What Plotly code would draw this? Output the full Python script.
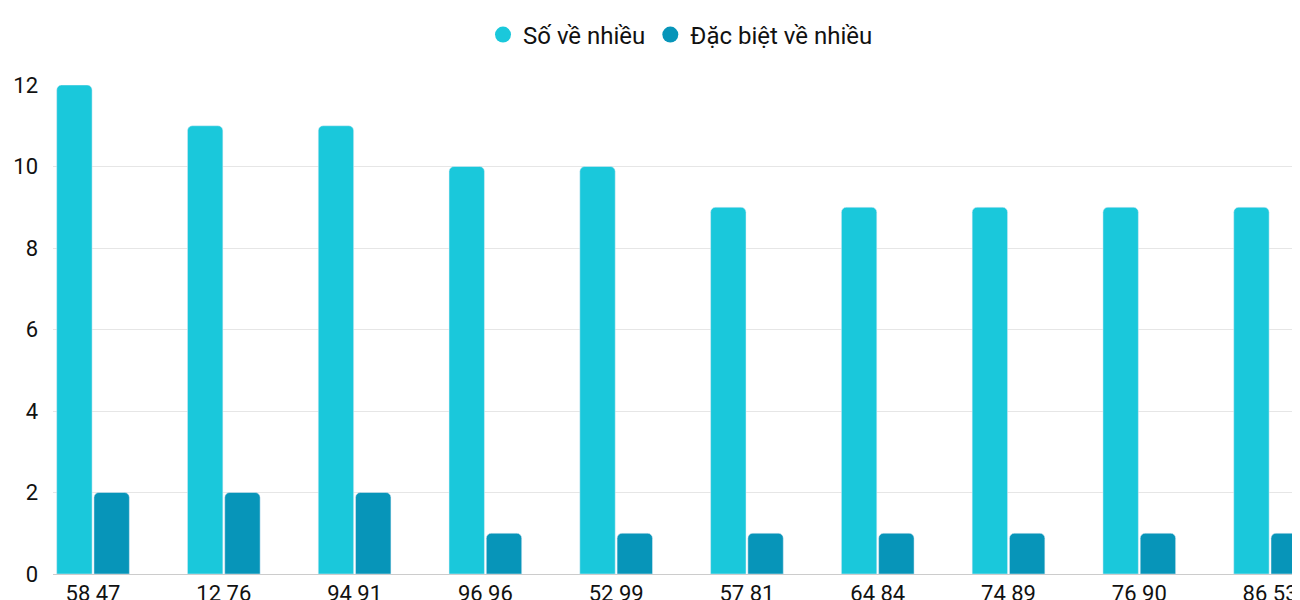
import plotly.graph_objects as go

categories = ["58 47", "12 76", "94 91", "96 96", "52 99", "57 81", "64 84", "74 89", "76 90", "86 53"]
so_ve_nhieu = [12, 11, 11, 10, 10, 9, 9, 9, 9, 9]
dac_biet = [2, 2, 2, 1, 1, 1, 1, 1, 1, 1]
c1, c2 = "#1AC8DB", "#0795B9"

fig = go.Figure()
fig.add_bar(x=categories, y=so_ve_nhieu, marker=dict(color=c1, cornerradius=5), showlegend=False)
fig.add_bar(x=categories, y=dac_biet, marker=dict(color=c2, cornerradius=5), showlegend=False)
for name, c in [("Số về nhiều", c1), ("Đặc biệt về nhiều", c2)]:
    fig.add_scatter(x=[None], y=[None], mode="markers", name=name,
                    marker=dict(color=c, size=30, symbol="circle"))
fig.update_layout(
    width=1300, height=600, barmode="group", bargap=0.43, bargroupgap=0.05,
    font=dict(family="Roboto", size=22, color="#111"),
    plot_bgcolor="white", paper_bgcolor="white",
    margin=dict(l=45, r=0, t=77, b=34, autoexpand=False),
    legend=dict(orientation="h", x=0.5, xanchor="center", yref="container", y=0.955,
                yanchor="middle", font=dict(size=24), itemsizing="trace"),
    xaxis=dict(showgrid=False, showline=True, linecolor="#ccc", ticks="",
               range=[-0.306, 9.29], automargin=False),
    yaxis=dict(range=[0, 12], dtick=2, gridcolor="#e6e6e6", zeroline=False, ticks="",
               ticklabelstandoff=14, automargin=False),
)
fig.write_html("out.html")
